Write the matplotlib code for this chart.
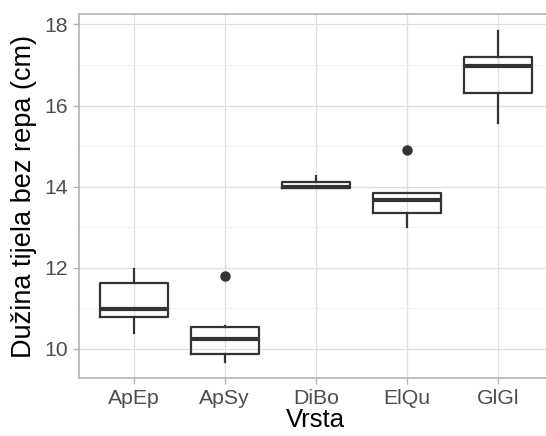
import matplotlib
matplotlib.use("Agg")
import matplotlib.pyplot as plt

# values
species = ["ApEp", "ApSy", "DiBo", "ElQu", "GlGl"]
whislo = [10.4, 9.68, 13.96, 13.0, 15.58]
q1 = [10.78, 9.86, 13.96, 13.36, 16.30]
med = [10.98, 10.24, 13.99, 13.67, 16.97]
q3 = [11.63, 10.53, 14.12, 13.85, 17.19]
whishi = [11.98, 10.57, 14.26, 13.85, 17.85]
outliers = [[], [11.8], [], [14.9], []]

plt.rcParams['font.family'] = ['Liberation Sans', 'DejaVu Sans']

stats = []
for i, name in enumerate(species):
    stats.append(dict(label=name, whislo=whislo[i], q1=q1[i], med=med[i],
                      q3=q3[i], whishi=whishi[i], fliers=outliers[i]))

fig = plt.figure(figsize=(5.46, 4.36), dpi=100)
ax = fig.add_axes([0.1447, 0.1323, 0.8676, 0.8356])

box_col = '#333333'
lw = 1.6
ax.bxp(stats, positions=range(1, len(species) + 1), widths=0.75,
       showcaps=False,
       boxprops=dict(color=box_col, linewidth=lw),
       whiskerprops=dict(color=box_col, linewidth=lw),
       medianprops=dict(color=box_col, linewidth=3.0, solid_capstyle='butt'),
       flierprops=dict(marker='o', markerfacecolor=box_col, markeredgecolor=box_col,
                       markersize=6.5),
       zorder=3)

# ggplot-like expansion
lo = min(whislo + [v for o in outliers for v in o])
hi = max(whishi + [v for o in outliers for v in o])
pad = (hi - lo) * 0.05
ax.set_ylim(lo - pad, hi + pad)
ax.set_xlim(0.4, len(species) + 0.6)

ax.set_yticks([10, 12, 14, 16, 18])
ax.set_yticks([11, 13, 15, 17], minor=True)
ax.set_xticks(range(1, len(species) + 1))
ax.set_xticklabels(species)

ax.grid(True, which='major', color='#DEDEDE', linewidth=0.9, zorder=0)
ax.grid(True, which='minor', axis='y', color='#EFEFEF', linewidth=0.6, zorder=0)
ax.set_axisbelow(True)

for s in ax.spines.values():
    s.set_color('#B3B3B3')
    s.set_linewidth(1.2)

ax.tick_params(which='major', length=4, color='#B3B3B3', width=1.0,
               labelsize=15.3, labelcolor='#4D4D4D', pad=4)
ax.tick_params(which='minor', length=0)

ax.set_xlabel("Vrsta", fontsize=18.5, color='black', labelpad=0)
ax.set_ylabel("Dužina tijela bez repa (cm)", fontsize=19.5, color='black', labelpad=5)

fig.savefig("out.png", dpi=100)
